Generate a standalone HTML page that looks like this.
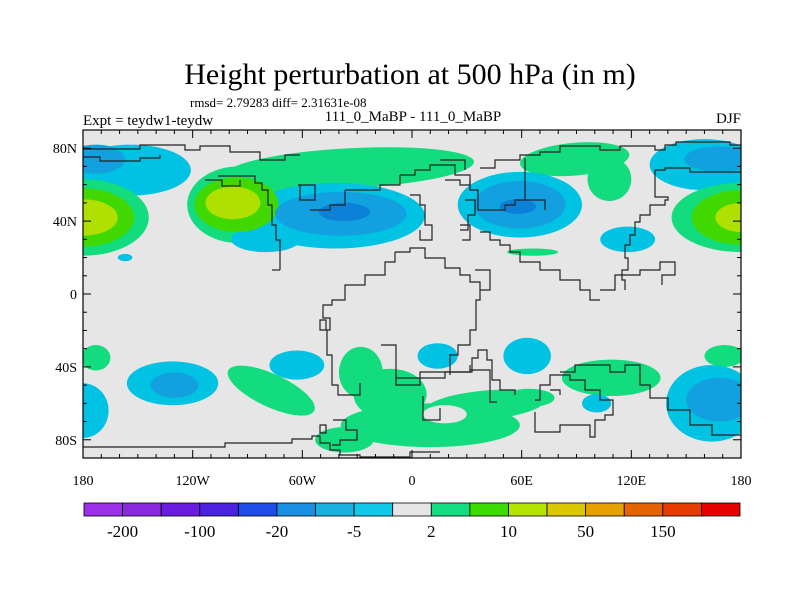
<!DOCTYPE html>
<html><head><meta charset="utf-8">
<style>
body{margin:0;background:#fff;}
svg{display:block;font-family:"Liberation Serif",serif;}
</style></head>
<body>
<svg id="chart" width="800" height="600" viewBox="0 0 800 600" xmlns="http://www.w3.org/2000/svg">
<text x="410" y="84" font-size="30" text-anchor="middle">Height perturbation at 500 hPa (in m)</text>
<text x="190" y="107" font-size="13">rmsd= 2.79283 diff= 2.31631e-08</text>
<text x="83" y="125" font-size="15">Expt = teydw1-teydw</text>
<text x="413" y="121" font-size="15" text-anchor="middle">111_0_MaBP - 111_0_MaBP</text>
<text x="741" y="123" font-size="15" text-anchor="end">DJF</text>
<defs><clipPath id="mapclip"><rect x="83" y="130" width="658" height="328"/></clipPath></defs>
<rect x="83" y="130" width="658" height="328" fill="#e6e6e6"/>
<g id="fills" clip-path="url(#mapclip)"></g>
<g clip-path="url(#mapclip)" fill="none" stroke="#222" stroke-width="1.2">
<path d="M83,149 H140 V145 H185 V150 H200 V146 H230 V152 H260 V160 H285 V155 H300"/>
<path d="M83,157 H100 V161 H140 V158 H160 V155"/>
<path d="M218,176 H255 V183 H262 V190 H268 V205 H272 V225 H276 V240 H280 V270"/>
<path d="M280,270 H272"/>
<path d="M205,180 H222 V186 H240 V180"/>
<path d="M298,185 H315 V200 H300 V185"/>
<path d="M310,210 H330 V205 H345 V190"/>
<path d="M345,190 H380 V185 H400 V175"/>
<path d="M400,175 H415 V170 H430 V165 H455 V175 H470 V185 H460 V180 H445"/>
<path d="M440,160 H465 V170"/>
<path d="M480,168 H495 V160 H520 V155 H540 V152 H560 V146 H600 V150 H620 V146 H655 V150 H665 V145 H676 V142 H730 V145 H741"/>
<path d="M525,158 V200 H545 V210"/>
<path d="M470,180 V190 H478 V210 H505 V205 H515 V200 H525"/>
<path d="M465,200 H475 V215 H468 V230 H460"/>
<path d="M410,195 H420 V205 H425 V225 H432 V240 H420 V230"/>
<path d="M460,225 H470 V240 H462"/>
<path d="M655,170 H665 V168 H690 V172 H741"/>
<path d="M655,170 V197 H668 V200 H665 V205 H650 V215 H640 V222 H635 V235 H630 V245 H625 V258 H628 V270 H622 V280 H625 V290"/>
<path d="M480,232 H490 V240 H500 V245 H510 V252 H520 V262 H540 V270 H560 V280 H580 V290 H590 V300 H600"/>
<path d="M600,290 H615 V275 H640 V270 H660 V262 H675 V275 H662 V285"/>
<path d="M475,270 H490 V290 H480"/>
<path d="M395,252 H410 V248 H425 V258 H445 V268 H460 V275 H470 V282 H480 V300 H476 V330 H470 V345 H458 V355 H450 V375"/>
<path d="M395,252 V262 H385 V275 H365 V285 H345 V300 H332 V305 H323 V318 H330 V330 H327 V355 H332 V385 H338 V395 H360 V383"/>
<path d="M320,320 H326 V330 H320 Z"/>
<path d="M381,345 H396 V385 H420 V378 H445 V372 H470 V365"/>
<path d="M396,378 H420 V372 H472 V358 H478 V350 H487 V360 H492 V380 H500 V390 H515 V395"/>
<path d="M423,396 V420 H440 V408"/>
<path d="M470,370 H490 V402 H497"/>
<path d="M535,412 V432 H560 V425 H590 V437 H595 V420 H605 V415 H613 V400 H600 V390 H585 V380 H570 V375 H550 V385 H540 V400 H535"/>
<path d="M550,390 H560 V395"/>
<path d="M560,372 H575 V365 H610 V372 H625 V365 H640 V385 H650 V398 H668 V410 H690 V425 H712 V435 H741"/>
<path d="M83,447 H225 V443 H292 V439 H312 V436 H320 V443 H330 V450 H340 V455 H360 V457 H410 V452 H440"/>
<path d="M333,420 H346 V430 H357 V440 H340 V445 H332"/>
<path d="M320,425 H326 V433 H320 Z"/>
</g>
<rect x="83" y="130" width="658" height="328" fill="none" stroke="#000" stroke-width="1.2"/>
<g id="ticks" stroke="#000" stroke-width="1"></g>
<g id="labels" font-size="14"></g>
<g id="colorbar"></g>
</svg>
<script>
// contour blobs (lon, lat centre; radii in degrees; contour level; rotation)
const blobLon  = [-154,-173,160,168,-180,-180,-180,180,180,180,-95,-96,-98,-34,-61,-42,-80,-39,-37,89,108,59,59,58,118,66,-157,
                  -173,171,-180,164,168,-131,-130,-77,-63,-28,-12,10,40,64,-37,18,14,63,109,101];
const blobLat  = [68,74,71,74,42,42,42,42,42,42,49,49,50,69,65,43,30,44,45,74,63,49,49,48,30,23,20,
                  -35,-34,-64,-60,-58,-49,-50,-53,-39,-43,-55,-72,-61,-57,-80,-66,-34,-34,-46,-60];
const blobRLon = [33,16,30,19,36,28,19,38,27,14,28,23,15,68,38,49,19,36,14,30,12,34,25,10,15,14,4,
                  8,11,14,25,18,25,13,26,15,12,20,49,33,14,16,12,11,13,27,8];
const blobRLat = [14,8,14,7,21,16,10,19,15,8,21,15,9,11,10,18,7,12,5,9,12,18,13,4,7,2,2,
                  7,6,15,21,12,12,7,9,8,14,14,12,8,5,7,5,7,10,10,5];
const blobLevel= [-1,-2,-1,-2,1,2,3,1,2,3,1,2,3,1,1,-1,-1,-2,-3,1,1,-1,-2,-3,-1,1,-1,
                  1,1,-1,-1,-2,-1,-2,1,-1,1,1,1,1,1,1,0,-1,-1,1,-1];
const blobRot  = [0,0,0,0,0,0,0,0,0,0,0,0,0,-3,-5,0,0,0,0,-5,0,0,0,0,0,0,0,
                  0,0,0,0,0,0,0,25,0,0,0,0,-5,0,0,0,0,0,0,0];
// colour bar
const cbColors = ["#9b30e8","#8a2ae0","#6a1de0","#4a22e0","#1e4ce8","#1a8ee0","#1ab0e0","#12c8e8","#e6e6e6","#14dc82","#3cdc00","#b4e400","#dcc800","#e6a000","#e66400","#e63c00","#e60000"];
const cbLabels = ["-200","-100","-20","-5","2","10","50","150"];
const lonTicks = ["180","120W","60W","0","60E","120E","180"];
const latTickVals = [80,40,0,-40,-80];
const latTickText = ["80N","40N","0","40S","80S"];
const levelColor = {"-3":"#0a80d8","-2":"#12a0e0","-1":"#00c2e2","0":"#e6e6e6","1":"#12dc7e","2":"#40d800","3":"#b0e000"};

const X0=83,X1=741,Y0=130,Y1=458;
const sx = lon => X0 + (lon+180)/360*(X1-X0);
const sy = lat => Y0 + (90-lat)/180*(Y1-Y0);
const kx=(X1-X0)/360, ky=(Y1-Y0)/180;
const NS="http://www.w3.org/2000/svg";
const fills=document.getElementById('fills');
const order=blobLevel.map((l,i)=>i).sort((a,b)=>{
  const ka = blobLevel[a]===0?9:Math.abs(blobLevel[a]);
  const kb = blobLevel[b]===0?9:Math.abs(blobLevel[b]);
  return ka-kb;
});
order.forEach(i=>{
  const e=document.createElementNS(NS,'ellipse');
  const cx=sx(blobLon[i]), cy=sy(blobLat[i]);
  e.setAttribute('cx',cx);e.setAttribute('cy',cy);
  e.setAttribute('rx',blobRLon[i]*kx);e.setAttribute('ry',blobRLat[i]*ky);
  e.setAttribute('fill',levelColor[String(blobLevel[i])]);
  if(blobRot[i]) e.setAttribute('transform',`rotate(${blobRot[i]} ${cx} ${cy})`);
  
  
  fills.appendChild(e);
});
const tk=document.getElementById('ticks');
function line(x1,y1,x2,y2){const l=document.createElementNS(NS,'line');
  l.setAttribute('x1',x1);l.setAttribute('y1',y1);l.setAttribute('x2',x2);l.setAttribute('y2',y2);
  
  
  tk.appendChild(l);}
for(let lon=-180;lon<=180;lon+=10){const x=sx(lon);const L=(lon%60===0)?8:4;line(x,Y1,x,Y1-L);line(x,Y0,x,Y0+L);}
for(let lat=-90;lat<=90;lat+=10){const y=sy(lat);const L=(lat%40===0)?8:4;line(X0,y,X0+L,y);line(X1,y,X1-L,y);}
const lb=document.getElementById('labels');
function txt(s,x,y,anchor,size,name){const t=document.createElementNS(NS,'text');
  t.setAttribute('x',x);t.setAttribute('y',y);t.setAttribute('text-anchor',anchor);
  if(size)t.setAttribute('font-size',size);t.textContent=s;
  
  
  return t;}
lonTicks.forEach((s,i)=>lb.appendChild(txt(s,sx(-180+60*i),485,'middle',null,'x-tick-label')));
latTickVals.forEach((v,i)=>lb.appendChild(txt(latTickText[i],77,sy(v)+5,'end',null,'y-tick-label')));
const cb=document.getElementById('colorbar');
const CB0=84,CB1=740,CBY=503,CBH=13,w=(CB1-CB0)/cbColors.length;
cbColors.forEach((c,i)=>{const r=document.createElementNS(NS,'rect');
  r.setAttribute('x',CB0+i*w);r.setAttribute('y',CBY);r.setAttribute('width',w);r.setAttribute('height',CBH);
  r.setAttribute('fill',c);r.setAttribute('stroke','#000');r.setAttribute('stroke-width','0.8');
  
  
  cb.appendChild(r);});
cbLabels.forEach((s,i)=>cb.appendChild(txt(s,CB0+(2*i+1)*w,537,'middle',17,'colorbar-label')));
</script>
</body></html>
